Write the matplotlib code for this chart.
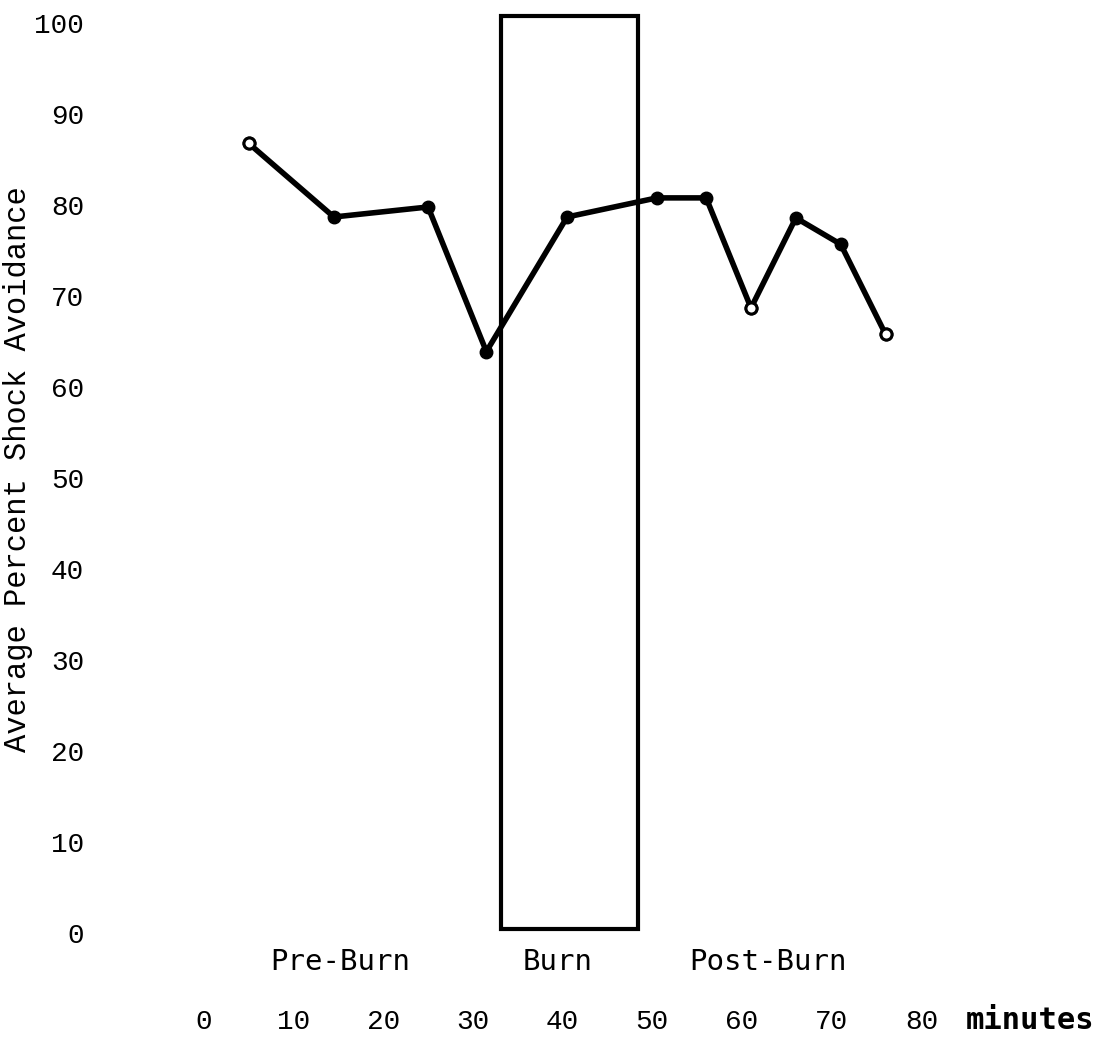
import numpy as np
import matplotlib.pyplot as plt
from matplotlib.patches import Rectangle

# Data (minutes, average percent shock avoidance)
minutes = [5, 14.5, 25, 31.5, 40.5, 50.5, 56, 61, 66, 71, 76]
avoidance = [86.8, 78.7, 79.8, 63.9, 78.7, 80.8, 80.8, 68.7, 78.6, 75.7, 65.8]
open_points = [0, 7, 10]

# Burn period box
burn_start, burn_end = 33.1, 48.4
burn_bottom, burn_top = 0.4, 100.8

phase_labels = ['Pre-Burn', 'Burn', 'Post-Burn']
phase_x = [15.2, 39.4, 62.9]

x_ticks = [0, 10, 20, 30, 40, 50, 60, 70, 80]
y_ticks = [0, 10, 20, 30, 40, 50, 60, 70, 80, 90, 100]

typewriter = 'Liberation Mono'
gothic = 'DejaVu Sans Mono'

fig = plt.figure(figsize=(11.07, 10.38), dpi=100)
ax = fig.add_axes([0.1841, 0.1014, 0.6888, 0.8937])
ax.set_xlim(0, 85)
ax.set_ylim(0, 102)

# Burn box
ax.add_patch(Rectangle((burn_start, burn_bottom), burn_end - burn_start,
                       burn_top - burn_bottom, fill=False, edgecolor='black',
                       linewidth=3, clip_on=False))

# Line with markers
ax.plot(minutes, avoidance, color='black', linewidth=4, marker='o',
        markersize=9, clip_on=False, zorder=3)
ax.plot([minutes[i] for i in open_points], [avoidance[i] for i in open_points],
        linestyle='none', marker='o', markersize=8, markerfacecolor='white',
        markeredgecolor='black', markeredgewidth=2.2, clip_on=False, zorder=4)

# Axes cosmetics
for s in ax.spines.values():
    s.set_visible(False)
ax.set_xticks(x_ticks)
ax.set_xticklabels([str(t) for t in x_ticks], fontfamily=typewriter, fontsize=20)
ax.set_yticks(y_ticks)
ax.set_yticklabels([str(t) for t in y_ticks], fontfamily=typewriter, fontsize=20)
ax.tick_params(axis='x', length=0, pad=55)
ax.tick_params(axis='y', length=0, pad=86)

ax.set_ylabel('Average Percent Shock Avoidance', fontfamily=typewriter,
              fontsize=22)
ax.yaxis.set_label_coords(-0.224, 0.5)

# Phase labels below the plot
for lab, x in zip(phase_labels, phase_x):
    ax.text(x, -3.2, lab, ha='center', va='center', fontfamily=gothic,
            fontsize=21)

ax.text(84.9, -9.7, 'minutes', ha='left', va='center', fontfamily=gothic,
        fontsize=22, fontweight='bold', clip_on=False)

fig.savefig('out.png', dpi=100)
